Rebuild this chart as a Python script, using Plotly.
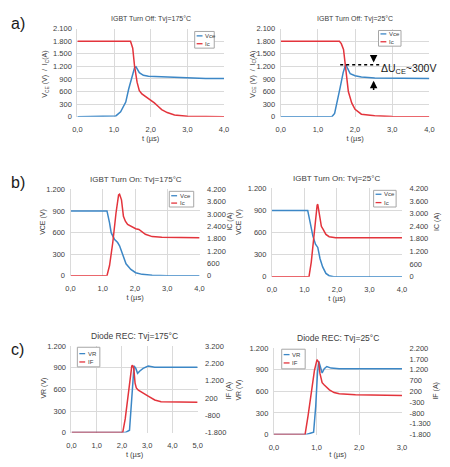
import plotly.graph_objects as go

W, H = 450, 467
BLUE = "#3C87C6"
RED = "#E3343C"
GRID = "#dadada"
TXT = "#404040"
FONT = "Liberation Sans"

# ---------------- data ----------------
# a) IGBT turn off, Tvj=175°C
a1_t_vce = [0, 0.96, 1.05, 1.18, 1.32, 1.4, 1.49, 1.56, 1.6, 1.69, 1.8, 1.94, 2.29, 2.6, 3.0, 3.5, 4.0]
a1_vce = [0, 3, 20, 117, 350, 660, 972, 1167, 1190, 1050, 987, 964, 950, 940, 920, 912, 909]
a1_t_ic = [0, 1.45, 1.51, 1.56, 1.63, 1.69, 1.76, 1.94, 2.1, 2.2, 2.3, 2.45, 2.65, 3.0, 4.0]
a1_ic = [1800, 1795, 1633, 1206, 817, 623, 544, 440, 330, 250, 170, 100, 45, 10, 0]
# a) IGBT turn off, Tvj=25°C
a2_t_vce = [0, 1.38, 1.45, 1.52, 1.6, 1.68, 1.75, 1.8, 1.87, 2.0, 2.17, 2.53, 3.0, 4.0]
a2_vce = [0, 5, 80, 350, 700, 1050, 1250, 1150, 1023, 975, 946, 923, 915, 908]
a2_t_ic = [0, 1.58, 1.63, 1.69, 1.75, 1.82, 1.91, 2.0, 2.17, 2.53, 3.0, 4.0]
a2_ic = [1800, 1795, 1740, 1600, 1138, 600, 330, 177, 62, 23, 5, 0]
# b) IGBT turn on, Tvj=175°C
b1_t_vce = [0, 1.13, 1.21, 1.26, 1.36, 1.46, 1.52, 1.62, 1.72, 1.87, 2.02, 2.22, 2.53, 3.0, 4.0]
b1_vce = [900, 900, 735, 598, 507, 461, 415, 278, 164, 87, 41, 18, 5, 0, 0]
b1_t_ic = [0, 1.13, 1.21, 1.31, 1.41, 1.49, 1.52, 1.58, 1.64, 1.7, 1.77, 2.02, 2.12, 2.32, 2.53, 2.83, 4.0]
b1_ic = [0, 0, 495, 1613, 3050, 3928, 3960, 3690, 2890, 2650, 2490, 2283, 2250, 2012, 1900, 1868, 1840]
# b) IGBT turn on, Tvj=25°C
b2_t_vce = [0, 1.1, 1.18, 1.26, 1.34, 1.41, 1.48, 1.56, 1.66, 1.76, 1.9, 4.0]
b2_vce = [900, 900, 728, 551, 441, 397, 243, 132, 44, 13, 0, 0]
b2_t_ic = [0, 1.14, 1.21, 1.28, 1.34, 1.39, 1.41, 1.46, 1.52, 1.58, 1.66, 1.76, 1.96, 4.0]
b2_ic = [0, 0, 695, 1776, 2856, 3397, 3443, 2872, 2393, 2238, 2007, 1900, 1853, 1853]
# c) Diode recovery, Tvj=175°C
c1_t_vr = [0, 2.13, 2.3, 2.36, 2.42, 2.48, 2.55, 2.62, 2.71, 2.84, 3.04, 3.3, 5.0]
c1_vr = [0, 0, 32, 371, 733, 928, 892, 824, 856, 892, 924, 910, 910]
c1_t_if = [0, 2.03, 2.13, 2.24, 2.33, 2.39, 2.42, 2.47, 2.52, 2.57, 2.65, 2.84, 3.04, 3.3, 3.55, 5.0]
c1_if = [-1800, -1800, -1008, 313, 1445, 2049, 2106, 1917, 1068, 785, 653, 464, 313, 87, -7, -45]
# c) Diode recovery, Tvj=25°C
c2_t_vr = [0, 0.76, 0.93, 0.98, 1.02, 1.05, 1.08, 1.13, 1.18, 1.24, 1.34, 1.53, 3.0]
c2_vr = [0, 0, 32, 394, 847, 1019, 960, 856, 915, 946, 924, 915, 915]
c2_t_if = [0, 0.73, 0.8, 0.88, 0.95, 1.01, 1.05, 1.08, 1.13, 1.18, 1.3, 1.41, 1.53, 1.91, 3.0]
c2_if = [-1800, -1800, -940, 117, 1174, 1672, 1551, 1023, 600, 494, 268, 147, 87, 41, 11]

# tick values / labels
t4_vals = [0, 1, 2, 3, 4]
t4_text = ["0,0", "1,0", "2,0", "3,0", "4,0"]
t5_vals = [0, 1, 2, 3, 4, 5]
t5_text = ["0,0", "1,0", "2,0", "3,0", "4,0", "5,0"]
t3_vals = [0, 1, 2, 3]
t3_text = ["0,0", "1,0", "2,0", "3,0"]
ya_vals = [0, 300, 600, 900, 1200, 1500, 1800, 2100]
ya_text = ["0", "300", "600", "900", "1.200", "1.500", "1.800", "2.100"]
yv_vals = [0, 300, 600, 900, 1200]
yv_text = ["0", "300", "600", "900", "1.200"]
yb_right_vals = [0, 600, 1200, 1800, 2400, 3000, 3600, 4200]
yb_right_text = ["0", "600", "1.200", "1.800", "2.400", "3.000", "3.600", "4.200"]
yc1_right_vals = [-1800, -800, 200, 1200, 2200, 3200]
yc1_right_text = ["-1.800", "-800", "200", "1.200", "2.200", "3.200"]
yc2_right_vals = [-1800, -1300, -800, -300, 200, 700, 1200, 1700, 2200]
yc2_right_text = ["-1.800", "-1.300", "-800", "-300", "200", "700", "1.200", "1.700", "2.200"]

titles = ["IGBT Turn Off: Tvj=175°C", "IGBT Turn Off: Tvj=25°C",
          "IGBT Turn On: Tvj=175°C", "IGBT Turn On: Tvj=25°C",
          "Diode REC: Tvj=175°C", "Diode REC: Tvj=25°C"]
legend_a = ["Vce", "Ic"]
legend_c = ["VR", "IF"]

# ---------------- layout helpers ----------------
def dx(x0, x1):
    return [x0 / W, x1 / W]

def dy(y0, y1):
    return [1 - y1 / H, 1 - y0 / H]

fig = go.Figure()

def line(x, y, name, color, xa, ya):
    fig.add_trace(go.Scatter(x=x, y=y, name=name, mode="lines",
                             line=dict(color=color, width=1.5),
                             xaxis=xa, yaxis=ya, showlegend=False))

line(a1_t_vce, a1_vce, legend_a[0], BLUE, "x", "y")
line(a1_t_ic, a1_ic, legend_a[1], RED, "x", "y")
line(a2_t_vce, a2_vce, legend_a[0], BLUE, "x2", "y2")
line(a2_t_ic, a2_ic, legend_a[1], RED, "x2", "y2")
line(b1_t_vce, b1_vce, legend_a[0], BLUE, "x3", "y3")
line(b1_t_ic, b1_ic, legend_a[1], RED, "x3", "y4")
line(b2_t_vce, b2_vce, legend_a[0], BLUE, "x4", "y5")
line(b2_t_ic, b2_ic, legend_a[1], RED, "x4", "y6")
line(c1_t_vr, c1_vr, legend_c[0], BLUE, "x5", "y7")
line(c1_t_if, c1_if, legend_c[1], RED, "x5", "y8")
line(c2_t_vr, c2_vr, legend_c[0], BLUE, "x6", "y9")
line(c2_t_if, c2_if, legend_c[1], RED, "x6", "y10")

tickfont = dict(family=FONT, size=7.5, color=TXT)
CLEAR = "rgba(0,0,0,0)"

def xaxis(dom, rng, vals, text, anchor):
    return dict(domain=dom, range=rng, tickvals=vals, ticktext=text, anchor=anchor,
                showgrid=True, gridcolor=GRID, gridwidth=1, zeroline=False,
                showline=False, ticks="outside", ticklen=5, tickcolor=CLEAR, tickfont=tickfont,
                title=dict(text="t (µs)", font=dict(family=FONT, size=7.5, color=TXT), standoff=1))

def yaxis(dom, rng, vals, text, anchor):
    return dict(domain=dom, range=rng, tickvals=vals, ticktext=text, anchor=anchor,
                showgrid=True, gridcolor=GRID, gridwidth=1, zeroline=False,
                showline=True, linecolor=GRID, ticks="outside", ticklen=3, tickcolor=CLEAR,
                tickfont=tickfont)

def yright(over, rng, vals, text, anchor):
    return dict(overlaying=over, side="right", range=rng, tickvals=vals, ticktext=text,
                anchor=anchor, showgrid=False, zeroline=False, showline=False,
                ticks="outside", ticklen=5, tickcolor=CLEAR, tickfont=tickfont)

P = {
    "a1": (dx(74, 224), dy(25, 115)),
    "a2": (dx(282, 434), dy(25, 115)),
    "b1": (dx(67, 199), dy(189, 277)),
    "b2": (dx(273, 406), dy(188, 278)),
    "c1": (dx(68, 197), dy(349, 437)),
    "c2": (dx(275, 406), dy(351, 439)),
}

lay = {}
lay["xaxis"] = xaxis(P["a1"][0], [0, 4], t4_vals, t4_text, "y")
lay["yaxis"] = yaxis(P["a1"][1], [0, 2100], ya_vals, ya_text, "x")
lay["xaxis2"] = xaxis(P["a2"][0], [0, 4], t4_vals, t4_text, "y2")
lay["yaxis2"] = yaxis(P["a2"][1], [0, 2100], ya_vals, ya_text, "x2")
lay["xaxis3"] = xaxis(P["b1"][0], [0, 4], t4_vals, t4_text, "y3")
lay["yaxis3"] = yaxis(P["b1"][1], [0, 1200], yv_vals, yv_text, "x3")
lay["yaxis4"] = yright("y3", [0, 4200], yb_right_vals, yb_right_text, "x3")
lay["xaxis4"] = xaxis(P["b2"][0], [0, 4], t4_vals, t4_text, "y5")
lay["yaxis5"] = yaxis(P["b2"][1], [0, 1200], yv_vals, yv_text, "x4")
lay["yaxis6"] = yright("y5", [0, 4200], yb_right_vals, yb_right_text, "x4")
lay["xaxis5"] = xaxis(P["c1"][0], [0, 5], t5_vals, t5_text, "y7")
lay["yaxis7"] = yaxis(P["c1"][1], [0, 1200], yv_vals, yv_text, "x5")
lay["yaxis8"] = yright("y7", [-1800, 3200], yc1_right_vals, yc1_right_text, "x5")
lay["xaxis6"] = xaxis(P["c2"][0], [0, 3], t3_vals, t3_text, "y9")
lay["yaxis9"] = yaxis(P["c2"][1], [0, 1200], yv_vals, yv_text, "x6")
lay["yaxis10"] = yright("y9", [-1800, 2200], yc2_right_vals, yc2_right_text, "x6")

fig.update_layout(width=W, height=H, autosize=False,
                  margin=dict(l=0, r=0, t=0, b=0),
                  paper_bgcolor="white", plot_bgcolor="white",
                  font=dict(family=FONT, color=TXT), showlegend=False, **lay)

ann = []
shapes = []

def px(x):
    return x / W

def py(y):
    return 1 - y / H

def txt(x, y, s, size=7.5, angle=0, color=TXT, xanchor="center"):
    ann.append(dict(x=px(x), y=py(y), xref="paper", yref="paper", text=s,
                    showarrow=False, textangle=angle, xanchor=xanchor, yanchor="middle",
                    font=dict(family=FONT, size=size, color=color)))

def draw_legend(x0, y0, x1, y1, names, ys):
    shapes.append(dict(type="rect", xref="paper", yref="paper",
                       x0=px(x0), x1=px(x1), y0=py(y1), y1=py(y0),
                       line=dict(color="#a6a6a6", width=1), fillcolor="white", layer="above"))
    for name, yy, col in zip(names, ys, [BLUE, RED]):
        shapes.append(dict(type="line", xref="paper", yref="paper",
                           x0=px(x0 + 2), x1=px(x0 + 8), y0=py(yy), y1=py(yy),
                           line=dict(color=col, width=1.3), layer="above"))
        txt(x0 + 8.5, yy, name, 6, xanchor="left")

draw_legend(194, 28, 214, 45, legend_a, [32.5, 40.5])
draw_legend(382, 27, 405, 43, legend_a, [30.5, 38.5])
draw_legend(168, 191, 193, 207, legend_a, [195.5, 203])
draw_legend(377, 190, 400, 207, legend_a, [194, 202.5])
draw_legend(74, 350, 97, 370, legend_c, [356.5, 365])
draw_legend(283, 352, 307, 372, legend_c, [357.5, 366])

# panel titles
txt(149, 15, titles[0], 7)
txt(358, 15, titles[1], 7)
txt(134, 179, titles[2], 8)
txt(339, 178, titles[3], 8)
txt(132, 339, titles[4], 8.5)
txt(341, 341, titles[5], 8.5)
# panel letters
txt(13, 20, "a)", 16, color="#1a1a1a")
txt(13, 182, "b)", 16, color="#1a1a1a")
txt(13, 352, "c)", 16, color="#1a1a1a")
# y axis titles
txt(41, 72, "V<sub>CE</sub> (V)  /  I<sub>C</sub>(A)", 7, -90)
txt(253, 72, "V<sub>CE</sub> (V)  /  I<sub>C</sub>(A)", 7, -90)
txt(39, 222, "VCE (V)", 7, -90)
txt(230, 222, "IC (A)", 7, -90)
txt(239.5, 222, "VCE (V)", 7, -90)
txt(442, 222, "IC (A)", 7, -90)
txt(40, 392, "VR (V)", 7, -90)
txt(230, 394, "IF (A)", 7, -90)
txt(239.5, 394, "VR (V)", 7, -90)
txt(441, 394, "IF (A)", 7, -90)

# delta U annotation
ann.append(dict(x=2.5, y=1290, ax=2.5, ay=1490, xref="x2", yref="y2", axref="x2", ayref="y2",
                showarrow=True, arrowhead=2, arrowsize=1, arrowwidth=1.5, arrowcolor="black", text=""))
ann.append(dict(x=2.5, y=860, ax=2.5, ay=600, xref="x2", yref="y2", axref="x2", ayref="y2",
                showarrow=True, arrowhead=2, arrowsize=1, arrowwidth=1.5, arrowcolor="black", text=""))
ann.append(dict(x=px(383), y=py(66), xref="paper", yref="paper", xanchor="left", yanchor="middle",
                text="ΔU<sub>CE</sub>~300V", showarrow=False,
                font=dict(family=FONT, size=10.5, color="#1a1a1a")))
shapes.append(dict(type="line", xref="x2", yref="y2", x0=1.6, x1=2.66, y0=1240, y1=1240,
                   line=dict(color="black", width=1.5, dash="dot")))

fig.update_layout(annotations=ann, shapes=shapes)

fig.write_html("out.html", config={"displayModeBar": False},
               post_script="document.body.style.margin='0';")
